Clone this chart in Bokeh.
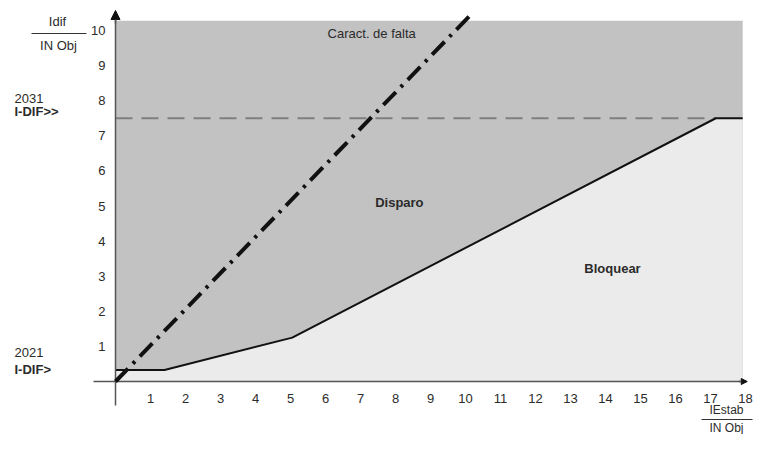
from bokeh.plotting import figure
from bokeh.models import Range1d, FixedTicker, Label, Arrow, NormalHead
from bokeh.embed import file_html
from bokeh.resources import INLINE

# ---- data ----
x_ticks = list(range(1, 19))
y_ticks = list(range(1, 11))

# operating (restraint) characteristic
char_x = [0, 1.4, 5.05, 17.15, 17.92]
char_y = [0.33, 0.33, 1.25, 7.5, 7.5]

# fault characteristic (dash-dot)
fault_x = [0, 10.2]
fault_y = [0, 10.5]

# I-DIF>> threshold
idif_high = 7.5
idif_high_end = 17.15

# trip region extent
region_x_max = 17.92
region_y_max = 10.28

FONT = "Liberation Sans"
TXT = "#2b2b2b"
AXC = "#555555"

W, H = 754, 434
X0PX, Y0PX = 115, 381      # pixel of data origin
SX, SY = 35.0, 35.1        # pixels per unit

x_rng = Range1d(-X0PX / SX, (W - X0PX) / SX)
y_rng = Range1d(-(H - Y0PX) / SY, Y0PX / SY)

p = figure(width=W, height=H, x_range=x_rng, y_range=y_rng,
           output_backend="svg", toolbar_location=None,
           min_border_left=0, min_border_right=0, min_border_top=0, min_border_bottom=0)
p.outline_line_color = None
p.xgrid.visible = False
p.ygrid.visible = False
p.background_fill_color = "white"
p.border_fill_color = "white"

for ax, ticks in ((p.xaxis[0], x_ticks), (p.yaxis[0], y_ticks)):
    ax.fixed_location = 0
    ax.ticker = FixedTicker(ticks=ticks)
    ax.major_tick_line_color = None
    ax.minor_tick_line_color = None
    ax.axis_line_color = None
    ax.major_label_text_font = FONT
    ax.major_label_text_font_size = "13px"
    ax.major_label_text_color = TXT
p.xaxis.major_label_standoff = 6
p.yaxis.major_label_standoff = 4

# trip region (dark gray)
p.quad(left=0, right=region_x_max, bottom=0, top=region_y_max,
       fill_color="#c2c2c2", line_color=None)
# block region (light gray) under characteristic
poly_x = [0] + char_x + [char_x[-1]]
poly_y = [0] + char_y + [0]
p.patch(poly_x, poly_y, fill_color="#ebebeb", line_color=None)

# I-DIF>> dashed line
p.line([0, idif_high_end], [idif_high, idif_high], line_color="#7f7f7f",
       line_width=2, line_dash="17 9")

# characteristic
p.line(char_x, char_y, line_color="#111111", line_width=2)

# axis lines (crossing at the origin)
p.line([-22 / SX, 18], [0, 0], line_color=AXC, line_width=1.5)
p.line([0, 0], [-24 / SY, 10.3], line_color=AXC, line_width=1.5)
p.add_layout(Arrow(end=NormalHead(size=9, fill_color="#111111", line_color="#111111"),
                   x_start=0, y_start=10.2, x_end=0, y_end=10.57,
                   line_color=AXC, line_width=1.5))
p.add_layout(Arrow(end=NormalHead(size=6, fill_color="#111111", line_color="#111111"),
                   x_start=17.8, y_start=0, x_end=18.05, y_end=0,
                   line_color=AXC, line_width=1.5))

# fault characteristic
p.line(fault_x, fault_y, line_color="#111111", line_width=4, line_dash="18 7 3 7")


def lab(x, y, text, align="center", bold=False, size="13px", baseline="middle"):
    p.add_layout(Label(x=x, y=y, text=text, text_align=align, text_baseline=baseline,
                       text_font=FONT, text_font_size=size, text_color=TXT,
                       text_font_style="bold" if bold else "normal"))


def px_x(px):
    return (px - X0PX) / SX


def px_y(py):
    return (Y0PX - py) / SY


# y-axis title (fraction)
lab(px_x(57), px_y(21), "Idif")
p.line([px_x(31), px_x(86)], [px_y(33), px_y(33)], line_color="#333333", line_width=1)
lab(px_x(58), px_y(45), "IN Obj")

# x-axis title (fraction)
lab(px_x(726), px_y(409), "IEstab", size="12px")
p.line([px_x(701), px_x(752)], [px_y(419), px_y(419)], line_color="#333333", line_width=1)
lab(px_x(726), px_y(434), "IN Obj", size="12px", baseline="bottom")

# threshold annotations
lab(px_x(14), px_y(98), "2031", align="left")
lab(px_x(14), px_y(111), "I-DIF>>", align="left", bold=True)
lab(px_x(14), px_y(352), "2021", align="left")
lab(px_x(14), px_y(369), "I-DIF>", align="left", bold=True)

# region labels
lab(6.06, 9.91, "Caract. de falta", align="left")
lab(8.11, 5.1, "Disparo", bold=True)
lab(14.2, 3.22, "Bloquear", bold=True)

open("out.html", "w").write(file_html(p, INLINE))
